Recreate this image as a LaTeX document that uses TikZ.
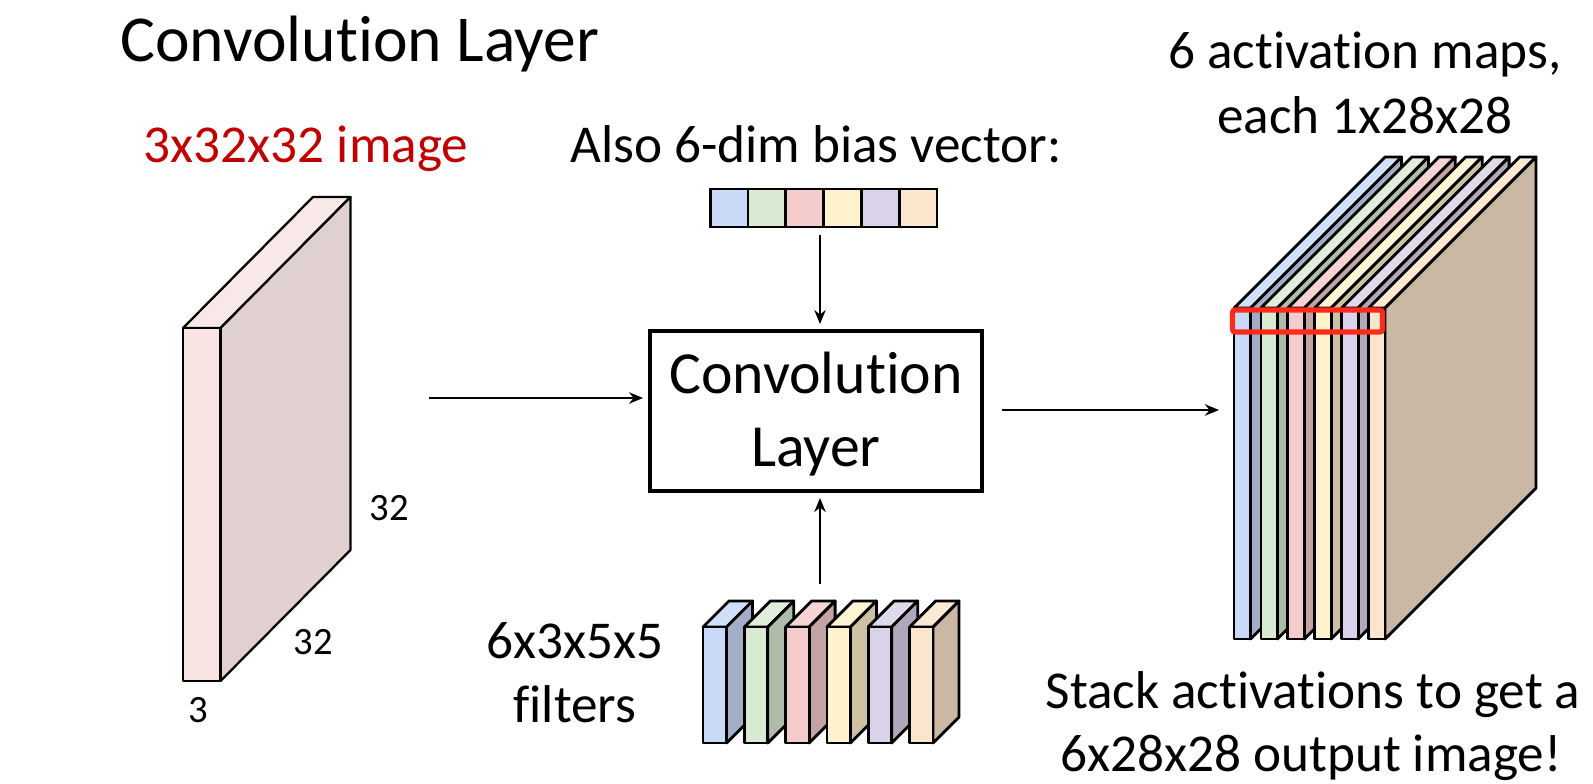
\documentclass[tikz,border=0pt]{standalone}
\usepackage{fontspec}
\setmainfont[Ligatures=NoCommon]{Carlito}
\usetikzlibrary{arrows.meta}
\definecolor{cOne}{HTML}{C9DAF8}
\definecolor{cTwo}{HTML}{D9EAD3}
\definecolor{cThree}{HTML}{F4CCCC}
\definecolor{cFour}{HTML}{FFF2CC}
\definecolor{cFive}{HTML}{D9D2E9}
\definecolor{cSix}{HTML}{FCE5CD}
\definecolor{cImg}{HTML}{F8E4E2}
\definecolor{cImgTop}{HTML}{F8E9E8}
\definecolor{cImgSide}{HTML}{E0D0CF}
\definecolor{cHead}{HTML}{C00000}
\definecolor{cMark}{HTML}{FF2A1A}
% #1 colour, #2 left, #3 top, #4 width, #5 height, #6 depth
\newcommand{\slab}[6]{%
  \draw[edge,fill=#1!85!white] (#2,#3) -- ++(#6,-#6) -- ++(#4,0) -- ++(-#6,#6) -- cycle;
  \draw[edge,fill=#1!80!black] (#2+#4,#3) -- ++(#6,-#6) -- ++(0,#5) -- ++(-#6,#6) -- cycle;
  \draw[edge,fill=#1] (#2,#3) rectangle ++(#4,#5);
}
\begin{document}
\begin{tikzpicture}[
  x=0.02cm,y=-0.02cm,
  edge/.style={draw=black,line width=1.6pt,line join=round},
  ar/.style={-{Stealth[length=8pt,width=6.5pt]},line width=1.6pt,color=black},
  big/.style={font=\fontsize{34}{41.5}\selectfont,align=center},
  lbl/.style={font=\fontsize{30.3}{36}\selectfont,anchor=base},
  num/.style={font=\fontsize{22}{24}\selectfont,anchor=base},
  cell/.style={draw=black,line width=1.6pt,minimum width=37.8*0.02cm,minimum height=38*0.02cm,inner sep=0pt},
]
\useasboundingbox (0,0) rectangle (1593,784);

% title and captions
\node[font=\fontsize{37.3}{44}\selectfont,anchor=base west,inner sep=0pt] (title) at (120,62) {Convolution Layer};
\node[lbl,text=cHead] (imgcap) at (306,163) {3x32x32 image};
\node[lbl] (biascap) at (816,163) {Also 6-dim bias vector:};
\node[lbl] (mapsA) at (1365,69) {6 activation maps,};
\node[lbl] (mapsB) at (1365,133) {each 1x28x28};
\node[lbl] (filtA) at (575,658) {6x3x5x5};
\node[lbl] (filtB) at (575,722) {filters};
\node[lbl] (stackA) at (1313,708) {Stack activations to get a};
\node[lbl] (stackB) at (1311,771) {6x28x28 output image!};

% input volume
\draw[edge,line width=1.3pt,fill=cImgTop] (183,328) -- ++(130,-131) -- ++(37.5,0) -- ++(-130,131) -- cycle;
\draw[edge,line width=1.3pt,fill=cImgSide] (220.5,328) -- ++(130,-131) -- ++(0,353) -- ++(-130,131) -- cycle;
\draw[edge,line width=1.3pt,fill=cImg] (183,328) rectangle (220.5,681);
\node[num] (dimH) at (389,520) {32};
\node[num] (dimW) at (313,654) {32};
\node[num] (dimD) at (198,722) {3};

% bias vector
\foreach \col [count=\i from 0] in {cOne,cTwo,cThree,cFour,cFive,cSix}
  \node[cell,fill=\col] (bias\i) at (729+37.8*\i,208) {};

% layer
\node[draw,line width=1.9pt,minimum width=332*0.02cm,minimum height=160*0.02cm,inner sep=0pt] (conv) at (816,411) {};
\node[big] (convtext) at (816,414) {Convolution\\Layer};

% filters
\foreach \col [count=\i from 0] in {cOne,cTwo,cThree,cFour,cFive,cSix}
  {\slab{\col}{703+41.3*\i}{627}{23.5}{116}{26}}

% activation maps
\foreach \col [count=\i from 0] in {cOne,cTwo,cThree,cFour,cFive,cSix}
  {\slab{\col}{1234+26.9*\i}{308}{16.5}{331}{151}}
\node[draw=cMark,line width=3pt,rounded corners=1.5pt,minimum width=150*0.02cm,minimum height=22*0.02cm,inner sep=0pt] (mark) at (1307.5,321) {};

% connectors
\coordinate (inEnd) at (429,398);
\coordinate (outEnd) at (1002,410);
\coordinate (mapsIn) at (1219,410);
\coordinate (biasEnd) at (820,235);
\coordinate (filtEnd) at (820,584);
\draw[ar,shorten >=3pt] (inEnd) -- (inEnd -| conv.west);
\draw[ar] (outEnd) -- (mapsIn);
\draw[ar,shorten >=3pt] (biasEnd) -- (biasEnd |- conv.north);
\draw[ar,shorten >=3pt] (filtEnd) -- (filtEnd |- conv.south);
\end{tikzpicture}
\end{document}
